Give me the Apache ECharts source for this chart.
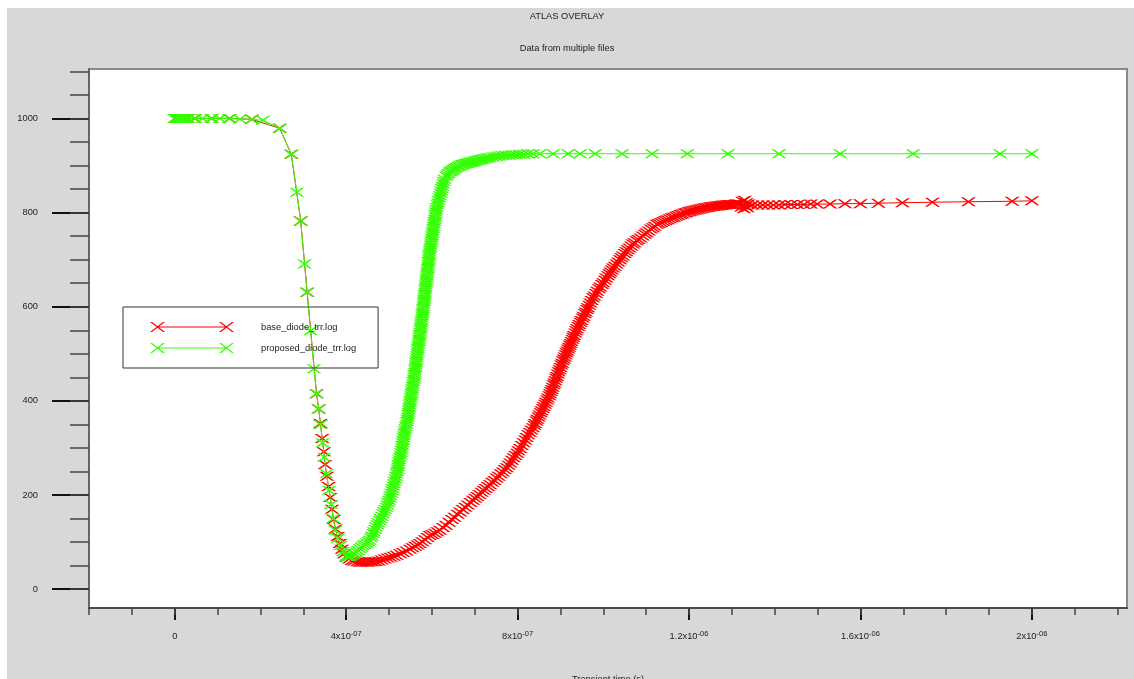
<!DOCTYPE html>
<html>
<head>
<meta charset="utf-8">
<script src="https://cdn.jsdelivr.net/npm/echarts@6/dist/echarts.min.js"></script>
<style>
html,body{margin:0;padding:0;background:#ffffff;}
#chart{width:1134px;height:679px;}
</style>
</head>
<body>
<div id="chart"></div>
<script>
// Samples are [time in units of 1e-7 s, value]
const TIME_UNIT = 1e-7;

const baseCurve = [
  [0,1000],[0.02,1000],[0.05,1000],[0.10,1000],[0.17,1000],[0.26,1000],[0.47,1000],[0.86,1000],[1.28,1000],[1.80,998],
  [2.45,979],[2.72,924],[2.94,782],[3.09,631],[3.31,415],[3.36,383],[3.40,352],[3.44,320],[3.48,292],[3.51,265],
  [3.55,240],[3.59,218],[3.63,195],[3.67,170],[3.71,148],[3.75,128],[3.80,112],[3.85,97],[3.90,85],[3.95,75],
  [4.01,68],[4.07,64],[4.13,61],[4.19,60],[4.26,58],[4.32,57],[4.38,57],[4.45,57],[4.51,57],[4.57,58],
  [4.63,58],[4.69,59],[4.76,60],[4.83,62],[4.90,64],[4.97,66],[5.04,68],[5.11,70],[5.18,72],[5.26,75],
  [5.33,78],[5.41,81],[5.49,85],[5.55,88],[5.61,91],[5.67,94],[5.72,97],[5.78,101],[5.84,105],[5.90,110],
  [5.95,114],[6.01,116],[6.07,119],[6.13,122],[6.19,125],[6.26,131],[6.33,136],[6.40,142],[6.47,148],[6.53,153],
  [6.60,159],[6.66,164],[6.72,169],[6.78,174],[6.84,179],[6.90,184],[6.96,189],[7.01,193],[7.06,197],[7.11,201],
  [7.16,206],[7.21,210],[7.26,214],[7.31,218],[7.36,222],[7.41,227],[7.46,231],[7.51,236],[7.56,240],[7.61,245],
  [7.66,249],[7.70,254],[7.75,258],[7.79,263],[7.83,268],[7.87,274],[7.91,279],[7.95,284],[7.99,289],[8.02,294],
  [8.06,299],[8.10,305],[8.14,311],[8.18,317],[8.21,322],[8.25,328],[8.29,333],[8.32,338],[8.36,343],[8.39,348],
  [8.41,352],[8.44,357],[8.46,361],[8.49,366],[8.51,370],[8.54,375],[8.56,379],[8.59,384],[8.61,388],[8.64,393],
  [8.66,397],[8.69,402],[8.71,406],[8.74,411],[8.76,415],[8.78,420],[8.80,424],[8.82,429],[8.84,434],[8.86,438],
  [8.88,443],[8.90,448],[8.92,452],[8.94,457],[8.96,462],[8.98,466],[9.00,471],[9.02,476],[9.04,480],[9.06,485],
  [9.08,489],[9.10,493],[9.12,498],[9.14,502],[9.16,506],[9.18,510],[9.20,514],[9.22,518],[9.24,522],[9.26,526],
  [9.28,531],[9.30,535],[9.32,539],[9.35,544],[9.37,549],[9.39,553],[9.42,558],[9.44,562],[9.47,567],[9.49,571],
  [9.52,576],[9.54,580],[9.57,585],[9.59,589],[9.62,594],[9.64,598],[9.67,603],[9.70,608],[9.73,613],[9.76,619],
  [9.79,623],[9.83,628],[9.86,633],[9.90,638],[9.93,642],[9.97,647],[10.00,651],[10.04,656],[10.07,661],[10.11,666],
  [10.14,670],[10.17,674],[10.20,678],[10.23,682],[10.27,686],[10.31,691],[10.35,695],[10.39,700],[10.42,704],[10.46,708],
  [10.50,713],[10.54,717],[10.57,721],[10.61,725],[10.65,729],[10.69,733],[10.73,736],[10.78,740],[10.82,743],[10.87,746],
  [10.92,750],[10.97,754],[11.01,757],[11.06,761],[11.11,765],[11.16,768],[11.20,771],[11.25,775],[11.30,777],[11.35,779],
  [11.40,781],[11.45,783],[11.50,785],[11.55,787],[11.60,789],[11.65,790],[11.70,792],[11.75,794],[11.80,796],[11.85,797],
  [11.90,799],[11.94,800],[11.99,802],[12.03,803],[12.08,804],[12.13,805],[12.18,806],[12.23,807],[12.28,808],[12.33,809],
  [12.38,810],[12.43,811],[12.48,812],[12.53,813],[12.58,813],[12.63,814],[12.68,814],[12.72,815],[12.76,815],[12.80,816],
  [12.85,816],[12.90,817],[12.95,817],[13.00,817],[13.05,817],[13.10,818],[13.14,818],[13.18,818],
  [13.22,812],[13.25,824],[13.28,808],[13.30,826],[13.32,814],[13.34,821],[13.36,810],[13.38,818],
  [13.48,816],[13.60,816],[13.72,816],[13.84,816],[13.97,816],[14.10,816],[14.24,817],[14.38,817],[14.53,817],[14.68,817],
  [14.84,818],[14.99,818],[15.29,818],[15.64,819],[16.00,819],[16.42,820],[16.98,821],[17.68,822],[18.52,823],[19.54,824],
  [20.0,825]
];

const proposedCurve = [
  [0,1000],[0.01,1000],[0.02,1000],[0.03,1000],[0.05,1000],[0.07,1000],[0.10,1000],[0.13,1000],[0.17,1000],[0.21,1000],
  [0.26,1000],[0.32,1000],[0.47,1000],[0.65,1000],[0.86,1000],[1.05,1000],[1.28,1000],[1.52,999],[1.80,998],[2.06,996],
  [2.45,979],[2.72,924],[2.85,843],[2.94,782],[3.03,691],[3.09,631],[3.17,549],[3.25,468],[3.31,415],[3.36,383],
  [3.40,350],[3.45,311],[3.49,280],[3.54,245],[3.60,210],[3.65,180],[3.70,150],[3.75,125],[3.81,108],[3.87,93],
  [3.93,80],[4.00,70],[4.04,69],[4.08,70],[4.12,72],[4.16,74],[4.20,76],[4.24,79],[4.28,82],[4.32,86],
  [4.36,89],[4.40,92],[4.44,95],[4.48,98],[4.52,101],[4.55,104],[4.58,109],[4.60,113],[4.63,118],[4.65,122],
  [4.68,127],[4.70,132],[4.73,137],[4.75,141],[4.78,146],[4.80,150],[4.83,155],[4.86,160],[4.88,165],[4.91,169],
  [4.94,174],[4.96,179],[4.98,184],[5.00,189],[5.02,194],[5.03,199],[5.05,204],[5.07,209],[5.08,214],[5.10,219],
  [5.12,224],[5.13,229],[5.15,234],[5.16,240],[5.18,245],[5.19,250],[5.20,255],[5.21,260],[5.22,265],[5.23,270],
  [5.24,275],[5.25,280],[5.27,285],[5.28,290],[5.29,295],[5.30,300],[5.31,305],[5.32,311],[5.33,316],[5.34,321],
  [5.35,326],[5.36,331],[5.37,336],[5.38,341],[5.39,346],[5.41,351],[5.419,356],[5.428,361],[5.437,366],[5.446,371],
  [5.454,376],[5.463,381],[5.472,386],[5.481,391],[5.490,396],[5.499,401],[5.508,406],[5.517,411],[5.525,416],[5.534,421],
  [5.543,426],[5.552,431],[5.561,436],[5.570,441],[5.579,446],[5.588,451],[5.596,456],[5.604,461],[5.611,466],[5.619,471],
  [5.626,476],[5.633,481],[5.640,486],[5.647,491],[5.654,496],[5.661,501],[5.669,506],[5.676,511],[5.683,516],[5.690,521],
  [5.697,526],[5.704,531],[5.711,536],[5.719,541],[5.726,546],[5.733,551],[5.740,556],[5.747,561],[5.754,566],[5.761,571],
  [5.769,576],[5.776,581],[5.783,586],[5.790,591],[5.797,596],[5.804,601],[5.810,606],[5.816,611],[5.823,616],[5.829,621],
  [5.835,626],[5.841,631],[5.848,636],[5.854,641],[5.860,646],[5.866,651],[5.873,656],[5.879,661],[5.885,666],[5.891,671],
  [5.898,676],[5.904,681],[5.910,686],[5.916,691],[5.923,696],[5.929,701],[5.935,706],[5.941,711],[5.948,716],[5.955,721],
  [5.964,726],[5.973,731],[5.981,736],[5.990,741],[5.999,746],[6.007,751],[6.016,756],[6.025,761],[6.033,766],[6.042,771],
  [6.051,776],[6.060,781],[6.068,786],[6.077,791],[6.086,796],[6.094,801],[6.103,806],[6.113,811],[6.128,816],[6.143,821],
  [6.158,826],[6.173,831],[6.188,836],[6.204,841],[6.219,846],[6.234,851],[6.249,856],[6.264,861],[6.279,866],[6.294,871],
  [6.33,877],[6.36,880],[6.39,883],[6.42,886],[6.45,888],[6.48,890],[6.51,892],[6.54,894],[6.58,896],[6.62,898],
  [6.65,899],[6.69,901],[6.72,902],[6.76,903],[6.79,904],[6.83,905],[6.86,906],[6.90,907],[6.93,907],[6.97,908],
  [7.00,909],[7.04,910],[7.08,911],[7.12,912],[7.16,913],[7.20,914],[7.25,915],[7.30,916],[7.36,917],[7.43,918],
  [7.50,919],[7.57,920],[7.64,921],[7.72,922],[7.80,922],[7.88,923],[7.96,923],[8.05,924],[8.14,924],[8.24,925],
  [8.36,925],[8.52,925],[8.83,925],[9.18,925],[9.46,925],[9.81,925],[10.44,925],[11.14,925],[11.96,925],[12.91,925],
  [14.10,925],[15.53,925],[17.23,925],[19.26,925],[20.0,925]
];

const seriesNames = ['base_diode_trr.log', 'proposed_diode_trr.log'];

const xMajorTicks = [0, 4e-7, 8e-7, 1.2e-6, 1.6e-6, 2e-6];
const xTickLabels = ['0', '4x10^-07', '8x10^-07', '1.2x10^-06', '1.6x10^-06', '2x10^-06'];
const xMinorTicks = [-2e-7, -1e-7, 0, 1e-7, 2e-7, 3e-7, 4e-7, 5e-7, 6e-7, 7e-7, 8e-7, 9e-7, 1e-6,
  1.1e-6, 1.2e-6, 1.3e-6, 1.4e-6, 1.5e-6, 1.6e-6, 1.7e-6, 1.8e-6, 1.9e-6, 2e-6, 2.1e-6, 2.2e-6];
const yMajorTicks = [0, 200, 400, 600, 800, 1000];
const yTickLabels = ['0', '200', '400', '600', '800', '1000'];
const yMinorTicks = [0, 50, 100, 150, 200, 250, 300, 350, 400, 450, 500, 550, 600, 650, 700, 750,
  800, 850, 900, 950, 1000, 1050, 1100];

const FONT = '"Liberation Sans", Arial, sans-serif';
const X_SYMBOL = 'path://M0 0L2.5 0L15 9L12.5 9ZM12.5 0L15 0L2.5 9L0 9Z';
const LEGEND_ICON = 'path://M0 0L2 0L15 10L13 10ZM13 0L15 0L2 10L0 10ZM7 4.4L77 4.4L77 5.6L7 5.6ZM69 0L71 0L84 10L82 10ZM82 0L84 0L71 10L69 10Z';

function toData(samples) {
  return samples.map(p => [p[0] * TIME_UNIT, p[1]]);
}

function nearestIndex(list, value) {
  let best = 0, bd = Infinity;
  list.forEach((t, i) => { const d = Math.abs(t - value); if (d < bd) { bd = d; best = i; } });
  return best;
}

function xLabel(value) {
  const parts = xTickLabels[nearestIndex(xMajorTicks, value)].split('^');
  return parts.length > 1 ? '{b|' + parts[0] + '}{s|' + parts[1] + '}' : '{b|' + parts[0] + '}';
}

function yLabel(value) {
  return yTickLabels[nearestIndex(yMajorTicks, value)];
}

const chart = echarts.init(document.getElementById('chart'), null, { renderer: 'canvas' });

const option = {
  animation: false,
  backgroundColor: '#d8d8d8',
  graphic: [
    { type: 'rect', shape: { x: 0, y: 0, width: 1134, height: 8 }, style: { fill: '#ffffff' }, silent: true },
    { type: 'rect', shape: { x: 0, y: 0, width: 7, height: 679 }, style: { fill: '#ffffff' }, silent: true }
  ],
  title: [
    { text: 'ATLAS OVERLAY', left: 'center', top: 12, padding: 0,
      textStyle: { fontSize: 9.3, fontWeight: 'normal', color: '#222', fontFamily: FONT } },
    { text: 'Data from multiple files', left: 'center', top: 44, padding: 0,
      textStyle: { fontSize: 9.3, fontWeight: 'normal', color: '#222', fontFamily: FONT } }
  ],
  legend: {
    orient: 'vertical',
    left: 123,
    top: 307,
    padding: [15, 22, 15, 27],
    itemGap: 11,
    itemWidth: 84,
    itemHeight: 10,
    borderColor: '#333333',
    borderWidth: 1,
    backgroundColor: 'transparent',
    itemStyle: { borderWidth: 0 },
    formatter: name => '{g| }' + name,
    textStyle: { fontSize: 9.3, color: '#222', fontFamily: FONT, rich: { g: { width: 22 } } },
    data: [
      { name: seriesNames[0], icon: LEGEND_ICON },
      { name: seriesNames[1], icon: LEGEND_ICON }
    ]
  },
  grid: {
    left: 89, top: 69, right: 7, bottom: 71,
    show: true, backgroundColor: '#ffffff', borderColor: '#8a8a8a', borderWidth: 2,
    containLabel: false, outerBoundsMode: 'none'
  },
  xAxis: [
    {
      type: 'value', min: -2e-7, max: 2.222e-6, position: 'bottom',
      name: 'Transient time (s)', nameLocation: 'middle', nameGap: 67,
      nameTextStyle: { fontSize: 9.3, color: '#222', fontFamily: FONT },
      axisLine: { show: true, onZero: false, lineStyle: { color: '#4a4a4a', width: 2 } },
      axisTick: { show: true, customValues: xMajorTicks, length: 12, lineStyle: { color: '#111', width: 2 } },
      axisLabel: {
        show: true, customValues: xMajorTicks, margin: 22, formatter: xLabel,
        rich: {
          b: { fontSize: 9.3, color: '#222', fontFamily: FONT, lineHeight: 12 },
          s: { fontSize: 7.5, color: '#222', fontFamily: FONT, lineHeight: 6, verticalAlign: 'top' }
        }
      },
      splitLine: { show: false }
    },
    {
      type: 'value', min: -2e-7, max: 2.222e-6, position: 'bottom',
      axisLine: { show: false, onZero: false },
      axisTick: { show: true, customValues: xMinorTicks, length: 7, lineStyle: { color: '#444', width: 1.5 } },
      axisLabel: { show: false },
      splitLine: { show: false }
    }
  ],
  yAxis: [
    {
      type: 'value', min: -40, max: 1105, position: 'left',
      axisLine: { show: true, onZero: false, lineStyle: { color: '#666', width: 2 } },
      axisTick: { show: true, customValues: yMajorTicks, length: 37, lineStyle: { color: '#111', width: 2 } },
      axisLabel: { show: true, customValues: yMajorTicks, margin: 51, formatter: yLabel,
        fontSize: 9.3, color: '#222', fontFamily: FONT },
      splitLine: { show: false }
    },
    {
      type: 'value', min: -40, max: 1105, position: 'left',
      axisLine: { show: false, onZero: false },
      axisTick: { show: true, customValues: yMinorTicks, length: 19, lineStyle: { color: '#444', width: 1.5 } },
      axisLabel: { show: false },
      splitLine: { show: false }
    }
  ],
  series: [
    {
      name: seriesNames[0], type: 'line', xAxisIndex: 0, yAxisIndex: 0,
      data: toData(baseCurve),
      symbol: X_SYMBOL, symbolSize: [15, 9], showSymbol: true,
      itemStyle: { color: '#ff0000' },
      lineStyle: { color: '#ff0000', width: 1 },
      z: 2
    },
    {
      name: seriesNames[1], type: 'line', xAxisIndex: 0, yAxisIndex: 0,
      data: toData(proposedCurve),
      symbol: X_SYMBOL, symbolSize: [15, 9], showSymbol: true,
      itemStyle: { color: '#33ff00' },
      lineStyle: { color: '#33ff00', width: 1 },
      z: 3
    }
  ]
};
chart.setOption(option);
</script>
</body>
</html>
